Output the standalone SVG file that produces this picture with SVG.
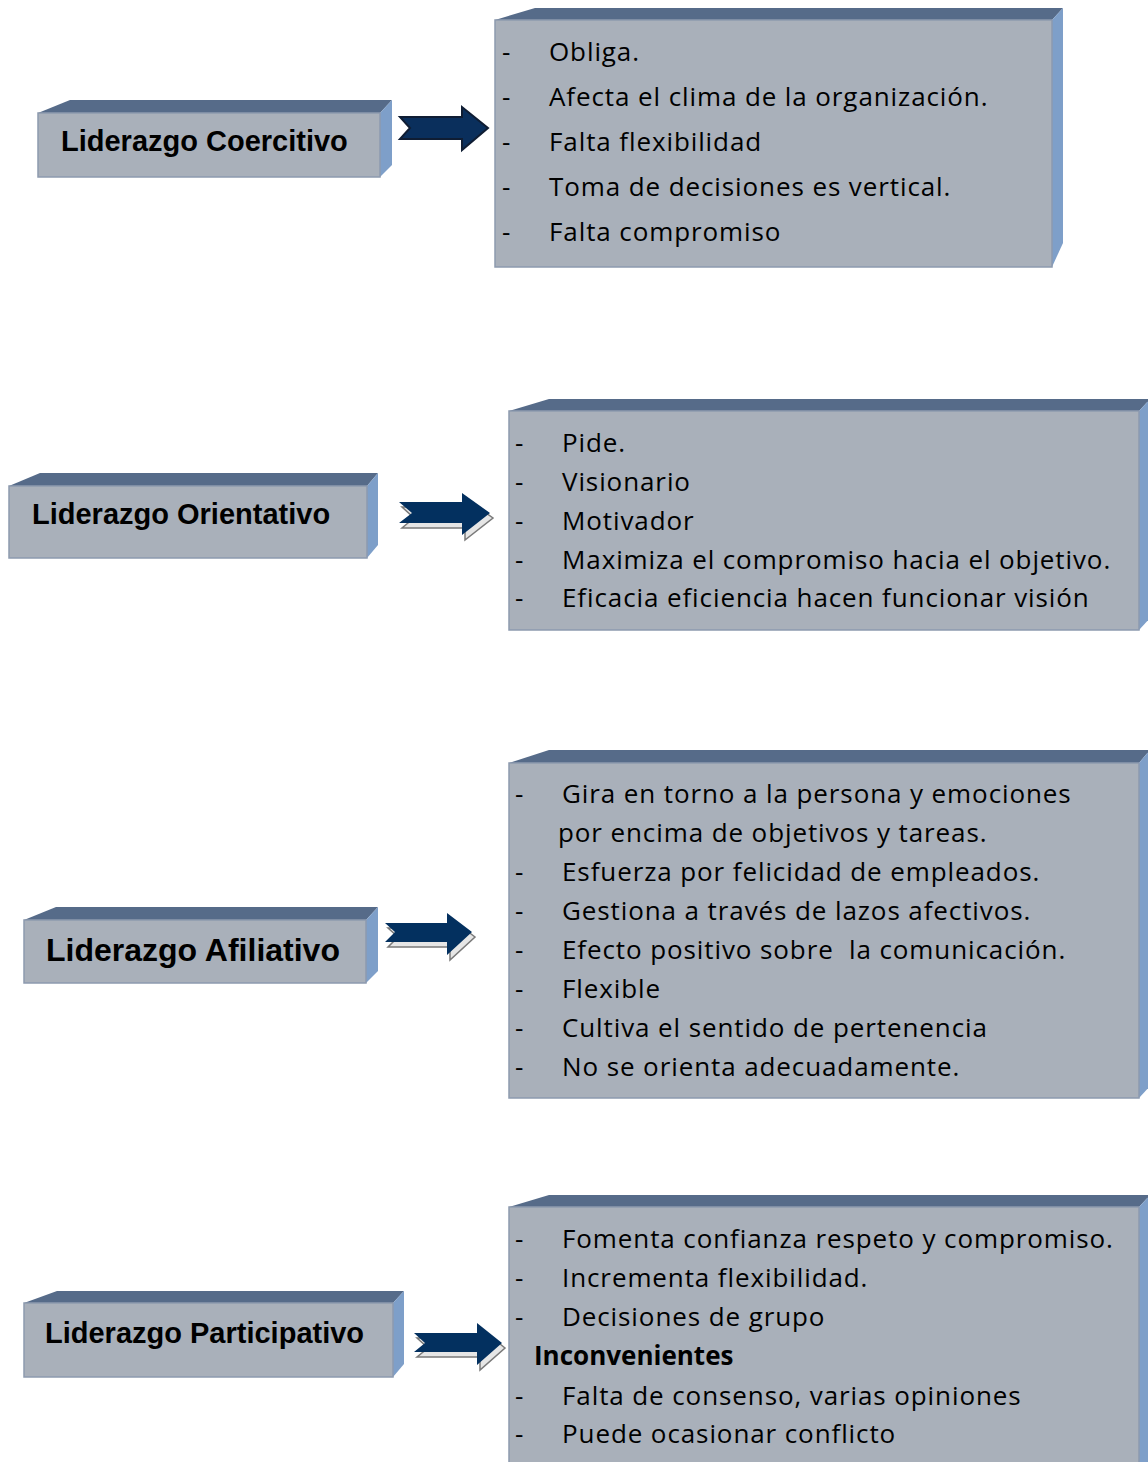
<svg xmlns="http://www.w3.org/2000/svg" width="1148" height="1462" viewBox="0 0 1148 1462">
<style>
.front{fill:#A9B0BA;stroke:#8D9AAF;stroke-width:1.5}
.top{fill:#566B89}
.side{fill:#7E9FC9}
.title{font-family:"Liberation Sans",Arial,sans-serif;font-weight:bold;fill:#000}
.item{font-family:"Open Sans","Noto Sans",sans-serif;font-size:26px;letter-spacing:0.9px;fill:#000}
.arrow{fill:#03305F}
.shadow{fill:#E6E6E6;stroke:#7A7A7A;stroke-width:1.5}
</style>
<rect width="1148" height="1462" fill="#fff"/>

<g id="node-coercitivo">
<polygon class="top" points="38,113 70,100 392,100 380,113"/>
<polygon class="side" points="380,113 392,100 392,165 380,177"/>
<rect class="front" x="38" y="113" width="342" height="64"/>
<text class="title" x="61" y="151" font-size="29">Liderazgo Coercitivo</text>
</g>

<g id="list-coercitivo">
<polygon class="top" points="495,20 535,8 1063,8 1052,20"/>
<polygon class="side" points="1052,20 1063,8 1063,243 1052,267"/>
<rect class="front" x="495" y="20" width="557" height="247"/>
<g class="item">
<text x="502" y="61">-</text><text x="549" y="61">Obliga.</text>
<text x="502" y="106">-</text><text x="549" y="106">Afecta el clima de la organización.</text>
<text x="502" y="151">-</text><text x="549" y="151">Falta flexibilidad</text>
<text x="502" y="196">-</text><text x="549" y="196">Toma de decisiones es vertical.</text>
<text x="502" y="241">-</text><text x="549" y="241">Falta compromiso</text>
</g>
</g>

<g id="node-orientativo">
<polygon class="top" points="9,486 40,473 378,473 367,486"/>
<polygon class="side" points="367,486 378,473 378,545 367,558"/>
<rect class="front" x="9" y="486" width="358" height="72"/>
<text class="title" x="32" y="524" font-size="29">Liderazgo Orientativo</text>
</g>

<g id="list-orientativo">
<polygon class="top" points="509,411 549,399 1150,399 1139,411"/>
<polygon class="side" points="1139,411 1150,399 1150,618 1139,630"/>
<rect class="front" x="509" y="411" width="630" height="219"/>
<g class="item">
<text x="515" y="452">-</text><text x="562" y="452">Pide.</text>
<text x="515" y="491">-</text><text x="562" y="491">Visionario</text>
<text x="515" y="530">-</text><text x="562" y="530">Motivador</text>
<text x="515" y="569">-</text><text x="562" y="569">Maximiza el compromiso hacia el objetivo.</text>
<text x="515" y="607">-</text><text x="562" y="607">Eficacia eficiencia hacen funcionar visión</text>
</g>
</g>

<g id="node-afiliativo">
<polygon class="top" points="24,920 56,907 378,907 366,920"/>
<polygon class="side" points="366,920 378,907 378,971 366,983"/>
<rect class="front" x="24" y="920" width="342" height="63"/>
<text class="title" x="46" y="961" font-size="32">Liderazgo Afiliativo</text>
</g>

<g id="list-afiliativo">
<polygon class="top" points="509,763 549,750 1150,750 1139,763"/>
<polygon class="side" points="1139,763 1150,750 1150,1086 1139,1098"/>
<rect class="front" x="509" y="763" width="630" height="335"/>
<g class="item">
<text x="515" y="803">-</text><text x="562" y="803">Gira en torno a la persona y emociones</text>
<text x="558" y="842">por encima de objetivos y tareas.</text>
<text x="515" y="881">-</text><text x="562" y="881">Esfuerza por felicidad de empleados.</text>
<text x="515" y="920">-</text><text x="562" y="920">Gestiona a través de lazos afectivos.</text>
<text x="515" y="959">-</text><text x="562" y="959" xml:space="preserve">Efecto positivo sobre  la comunicación.</text>
<text x="515" y="998">-</text><text x="562" y="998">Flexible</text>
<text x="515" y="1037">-</text><text x="562" y="1037">Cultiva el sentido de pertenencia</text>
<text x="515" y="1076">-</text><text x="562" y="1076">No se orienta adecuadamente.</text>
</g>
</g>

<g id="node-participativo">
<polygon class="top" points="24,1303 57,1291 404,1291 393,1303"/>
<polygon class="side" points="393,1303 404,1291 404,1364 393,1377"/>
<rect class="front" x="24" y="1303" width="369" height="74"/>
<text class="title" x="45" y="1343" font-size="29">Liderazgo Participativo</text>
</g>

<g id="list-participativo">
<polygon class="top" points="509,1207 549,1195 1150,1195 1139,1207"/>
<polygon class="side" points="1139,1207 1150,1195 1150,1480 1139,1480"/>
<rect class="front" x="509" y="1207" width="630" height="275"/>
<g class="item">
<text x="515" y="1248">-</text><text x="562" y="1248">Fomenta confianza respeto y compromiso.</text>
<text x="515" y="1287">-</text><text x="562" y="1287">Incrementa flexibilidad.</text>
<text x="515" y="1326">-</text><text x="562" y="1326">Decisiones de grupo</text>
<text x="534" y="1365" font-weight="bold" letter-spacing="0">Inconvenientes</text>
<text x="515" y="1405">-</text><text x="562" y="1405">Falta de consenso, varias opiniones</text>
<text x="515" y="1443">-</text><text x="562" y="1443">Puede ocasionar conflicto</text>
</g>
</g>

<g id="connectors">
<polygon points="400,117 462,117 462,107 488,128 462,150 462,139 400,139 410,128" fill="#0A2F5C" stroke="#0F1D33" stroke-width="2"/>
<polygon class="shadow" points="402,507 465,507 465,498 493,518 465,540 465,528 402,528 414,518"/>
<polygon class="arrow" points="399,502 462,502 462,493 490,513 462,535 462,523 399,523 412,513"/>
<polygon class="shadow" points="388,928 450,928 450,918 475,937 450,960 450,947 388,947 398,937"/>
<polygon class="arrow" points="385,923 447,923 447,913 472,932 447,955 447,942 385,942 395,932"/>
<polygon class="shadow" points="417,1338 480,1338 480,1328 505,1348 480,1370 480,1357 417,1357 428,1348"/>
<polygon class="arrow" points="414,1333 477,1333 477,1323 502,1343 477,1365 477,1352 414,1352 425,1343"/>
</g>
</svg>
